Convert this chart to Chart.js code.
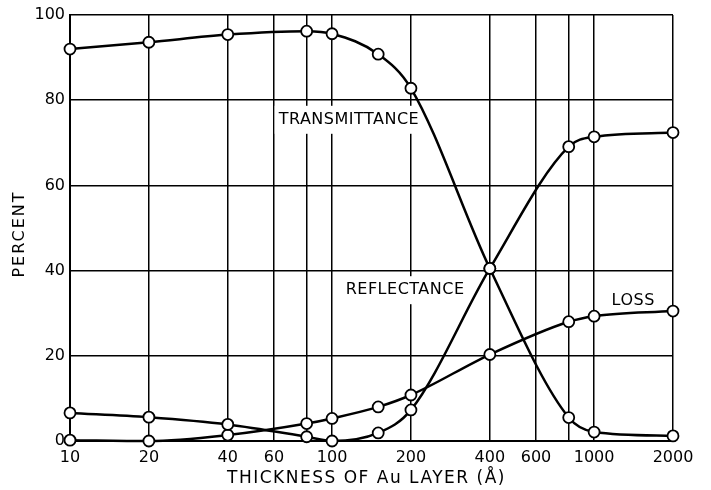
<!DOCTYPE html>
<html>
<head>
<meta charset="utf-8">
<script src="https://cdn.jsdelivr.net/npm/chart.js@4.4.1/dist/chart.umd.min.js"></script>
<style>
  html, body { margin: 0; padding: 0; background: #fff; }
  #wrap { width: 711px; height: 490px; position: relative; }
</style>
</head>
<body>
<div id="wrap"><canvas id="c" width="711" height="490"></canvas></div>
<script>
const thickness = [10, 20, 40, 80, 100, 150, 200, 400, 800, 1000, 2000];
const transmittance = [92, 93.6, 95.4, 96.2, 95.6, 90.8, 82.8, 40.5, 5.5, 2.1, 1.2];
const reflectance = [6.6, 5.6, 3.9, 1.0, 0.0, 1.9, 7.3, 40.5, 69.1, 71.4, 72.4];
const loss = [0.2, 0.0, 1.4, 4.1, 5.3, 8.0, 10.8, 20.3, 28.0, 29.3, 30.5];
const xGridValues = [10, 20, 40, 60, 80, 100, 200, 400, 600, 800, 1000, 2000];
const xTickLabels = ['10', '20', '40', '60', '', '100', '200', '400', '600', '', '1000', '2000'];
const yTickValues = [0, 20, 40, 60, 80, 100];
const xTitle = 'THICKNESS OF Au LAYER (Å)';
const yTitle = 'PERCENT';
const curveLabels = [
  { text: 'TRANSMITTANCE', x: 116, y: 75.4 },
  { text: 'REFLECTANCE', x: 190, y: 35.4 },
  { text: 'LOSS', x: 1410, y: 32.9 }
];

const FONT = "'DejaVu Sans', 'Liberation Sans', sans-serif";

function mk(label, vals) {
  return {
    label,
    data: thickness.map((t, i) => ({ x: t, y: vals[i] })),
    borderColor: '#000',
    borderWidth: 2.5,
    pointRadius: 5.5,
    pointBorderWidth: 1.8,
    pointBackgroundColor: '#fff',
    pointBorderColor: '#000',
    cubicInterpolationMode: 'monotone',
    clip: false
  };
}

const labelPlugin = {
  id: 'curveLabels',
  beforeDatasetsDraw(chart) {
    const ctx = chart.ctx;
    const xs = chart.scales.x, ys = chart.scales.y;
    ctx.save();
    ctx.font = '16px ' + FONT;
    ctx.letterSpacing = '0.5px';
    ctx.textAlign = 'center';
    ctx.textBaseline = 'middle';
    curveLabels.forEach(l => {
      const px = xs.getPixelForValue(l.x);
      const py = ys.getPixelForValue(l.y);
      const w = ctx.measureText(l.text).width;
      ctx.fillStyle = '#fff';
      ctx.fillRect(px - w / 2 - 4, py - 14, w + 8, 28);
      ctx.fillStyle = '#000';
      ctx.fillText(l.text, px, py);
    });
    ctx.restore();
  },
  afterDraw(chart) {
    const ctx = chart.ctx;
    const a = chart.chartArea;
    ctx.save();
    ctx.fillStyle = '#000';
    ctx.textAlign = 'center';
    ctx.textBaseline = 'middle';
    ctx.font = '17px ' + FONT;
    ctx.letterSpacing = '1.5px';
    ctx.fillText(xTitle, (a.left + a.right) / 2 - 5, chart.height - 11);
    ctx.font = '16px ' + FONT;
    ctx.letterSpacing = '2px';
    ctx.translate(20, (a.top + a.bottom) / 2 + 6);
    ctx.rotate(-Math.PI / 2);
    ctx.fillText(yTitle, 0, 0);
    ctx.restore();
  }
};

new Chart(document.getElementById('c'), {
  type: 'line',
  data: {
    datasets: [mk('Transmittance', transmittance), mk('Reflectance', reflectance), mk('Loss', loss)]
  },
  options: {
    responsive: false,
    animation: false,
    layout: { padding: { top: 15, right: 38, left: 0, bottom: 0 } },
    plugins: { legend: { display: false }, tooltip: { enabled: false } },
    scales: {
      x: {
        type: 'logarithmic',
        min: 10,
        max: 2000,
        afterBuildTicks(scale) {
          scale.ticks = xGridValues.map(v => ({ value: v }));
        },
        afterFit(scale) { scale.height = 49; },
        ticks: {
          autoSkip: false,
          maxRotation: 0,
          padding: 7,
          color: '#000',
          font: { family: FONT, size: 16 },
          callback(value) {
            const i = xGridValues.indexOf(value);
            return i >= 0 ? xTickLabels[i] : '';
          }
        },
        grid: { color: '#000', lineWidth: 1.5, drawTicks: false },
        border: { color: '#000', width: 2 }
      },
      y: {
        min: 0,
        max: 100,
        afterBuildTicks(scale) {
          scale.ticks = yTickValues.map(v => ({ value: v }));
        },
        afterFit(scale) { scale.width = 70; },
        ticks: {
          padding: 5,
          color: '#000',
          font: { family: FONT, size: 16 }
        },
        grid: { color: '#000', lineWidth: 1.5, drawTicks: false },
        border: { color: '#000', width: 2 }
      }
    }
  },
  plugins: [labelPlugin]
});
</script>
</body>
</html>
